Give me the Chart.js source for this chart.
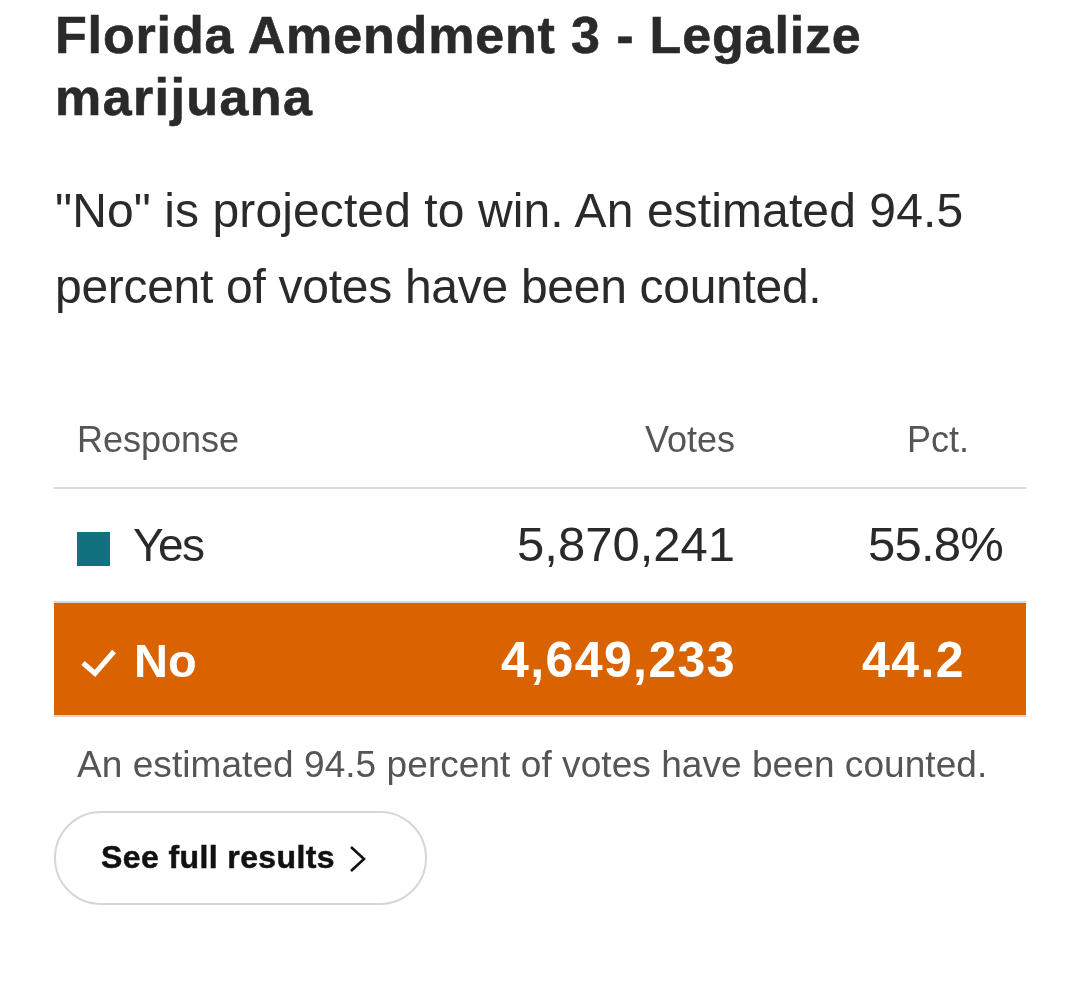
<!DOCTYPE html>
<html>
<head>
<meta charset="utf-8">
<script src="https://cdn.jsdelivr.net/npm/chart.js@4"></script>
<style>
  html, body { margin: 0; padding: 0; background: #fff; }
  body { position: relative; width: 1080px; height: 985px; overflow: hidden; font-family: "Liberation Sans", sans-serif; }
  #resultsChart { position: absolute; left: 0; top: 0; }
  .line { position: absolute; white-space: nowrap; margin: 0; }
  .title { left: 55px; font-size: 52px; font-weight: 700; color: #2a2a2a; line-height: 60px; -webkit-text-stroke: 0.6px #2a2a2a; }
  .sub { left: 55px; font-size: 48px; font-weight: 400; color: #2a2a2a; line-height: 60px; }
  .note { left: 77px; top: 744px; font-size: 37px; letter-spacing: 0.06px; color: #555; line-height: 42px; }
  #fullResults { position: absolute; left: 54px; top: 811px; width: 369px; height: 90px; border: 2px solid #d6d6d6; border-radius: 47px; }
  #fullResults span { position: absolute; left: 45px; top: 26px; font-size: 32px; letter-spacing: 0.4px; line-height: 36px; font-weight: 700; color: #111; white-space: nowrap; -webkit-text-stroke: 0.5px #111; }
  #fullResults svg { position: absolute; left: 292px; top: 31px; }
</style>
</head>
<body>
<canvas id="resultsChart" width="1080" height="985"></canvas>
<h1 class="line title" style="top:5px;letter-spacing:0.85px">Florida Amendment 3 - Legalize</h1>
<h1 class="line title" style="top:67px;letter-spacing:1.4px">marijuana</h1>
<p class="line sub" style="top:181px;letter-spacing:0.1px">"No" is projected to win. An estimated 94.5</p>
<p class="line sub" style="top:257px;letter-spacing:-0.29px">percent of votes have been counted.</p>
<p class="line note">An estimated 94.5 percent of votes have been counted.</p>
<div id="fullResults">
  <span>See full results</span>
  <svg width="20" height="30" viewBox="0 0 20 30"><path d="M3 3 L16 15 L3 27" fill="none" stroke="#111" stroke-width="2.6"/></svg>
</div>
<script>
const categories = ["Yes", "No"];
const votes = [5870241, 4649233];
const pctLabels = ["55.8%", "44.2"];
const headers = ["Response", "Votes", "Pct."];
const winnerRow = [null, 1];

const FONT = '"Liberation Sans", sans-serif';

// draws the table text, rules and markers on top of the rows
const tableText = {
  id: "tableText",
  afterDatasetsDraw(chart) {
    const { ctx, chartArea, scales } = chart;
    ctx.save();
    ctx.textBaseline = "alphabetic";

    // header row
    ctx.font = "36px " + FONT;
    ctx.fillStyle = "#555";
    ctx.textAlign = "left";
    ctx.fillText(headers[0], 77, 452);
    ctx.textAlign = "right";
    ctx.fillText(headers[1], 735, 452);
    ctx.fillText(headers[2], 969, 452);

    // rules
    ctx.fillStyle = "#d9d9d9";
    ctx.fillRect(chartArea.left, chartArea.top - 1, chartArea.width, 2);
    ctx.fillRect(chartArea.left, scales.y.getPixelForValue(0) + 56, chartArea.width, 2);
    ctx.fillStyle = "#e6d3c4";
    ctx.fillRect(chartArea.left, chartArea.bottom - 1, chartArea.width, 2);

    categories.forEach((name, i) => {
      const won = winnerRow[i] === 1;
      const base = scales.y.getPixelForValue(i) + (won ? 17.5 : 16);
      ctx.fillStyle = won ? "#fff" : "#2a2a2a";
      ctx.textAlign = "left";
      if (won) {
        ctx.font = "700 47px " + FONT;
        ctx.fillText(name, 134, base);
        ctx.font = "700 50px " + FONT;
        ctx.letterSpacing = "1.4px";
        ctx.textAlign = "right";
        ctx.fillText(votes[i].toLocaleString("en-US"), 736, base);
        ctx.fillText(pctLabels[i], 965, base);
        ctx.letterSpacing = "0px";

        ctx.strokeStyle = "#fff";
        ctx.lineWidth = 5;
        ctx.beginPath();
        ctx.moveTo(83, base - 13.5);
        ctx.lineTo(95, base - 3);
        ctx.lineTo(114, base - 25);
        ctx.stroke();
      } else {
        ctx.font = "400 46px " + FONT;
        ctx.letterSpacing = "-1.5px";
        ctx.fillText(name, 133, base);
        ctx.font = "400 49px " + FONT;
        ctx.letterSpacing = "0px";
        ctx.textAlign = "right";
        ctx.fillText(votes[i].toLocaleString("en-US"), 735, base);
        ctx.letterSpacing = "-0.8px";
        ctx.fillText(pctLabels[i], 1003, base);
        ctx.letterSpacing = "0px";

        ctx.fillStyle = "#10717f";
        ctx.fillRect(77, base - 29, 33, 34);
      }
    });
    ctx.restore();
  }
};

new Chart(document.getElementById("resultsChart"), {
  type: "bar",
  data: {
    labels: categories,
    datasets: [{
      data: winnerRow,
      backgroundColor: "#d86300",
      barPercentage: 1,
      categoryPercentage: 1
    }]
  },
  options: {
    indexAxis: "y",
    responsive: false,
    animation: false,
    layout: { padding: { left: 54, right: 54, top: 488, bottom: 269 } },
    plugins: { legend: { display: false }, tooltip: { enabled: false } },
    scales: {
      x: { display: false, min: 0, max: 1 },
      y: { display: false }
    }
  },
  plugins: [tableText]
});
</script>
</body>
</html>
